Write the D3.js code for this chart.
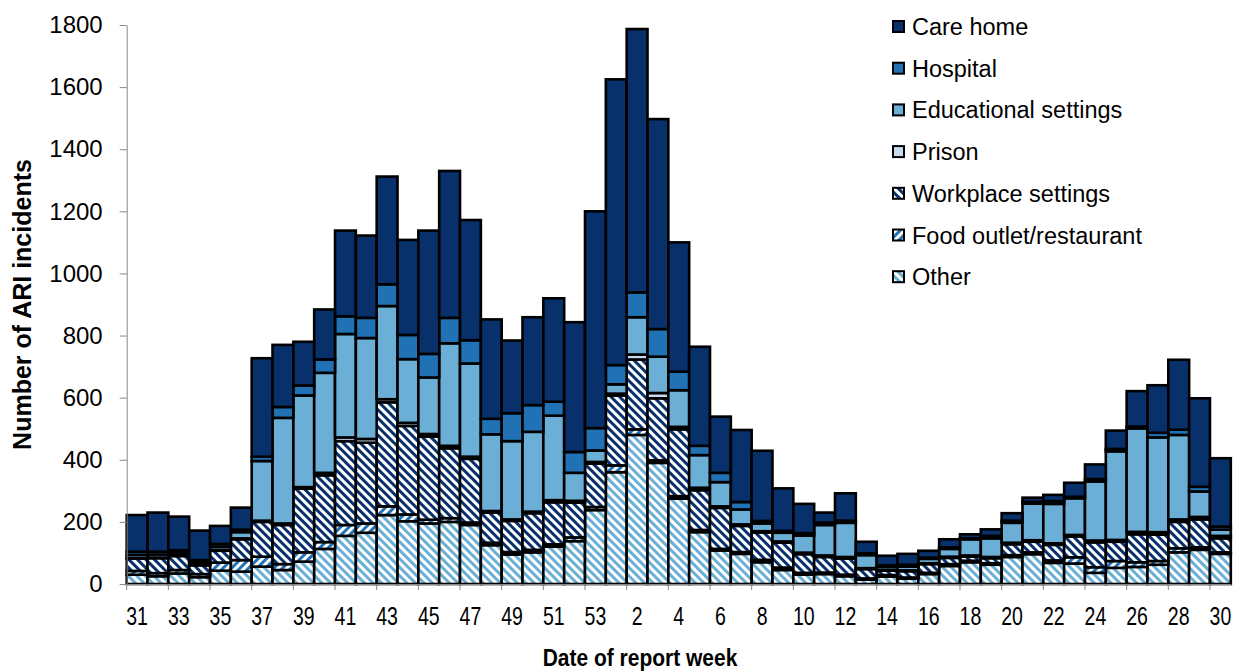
<!DOCTYPE html>
<html>
<head>
<meta charset="utf-8">
<script src="https://cdn.jsdelivr.net/npm/d3@7"></script>
<style>
  body { margin: 0; background: #fff; }
  text { font-family: "Liberation Sans", Arial, sans-serif; }
</style>
</head>
<body>
<div id="chart"></div>
<script>
// report weeks (31-53 then 1-30)
const weeks = ['31','32','33','34','35','36','37','38','39','40','41','42','43','44','45','46','47','48','49','50','51','52','53',
  '1','2','3','4','5','6','7','8','9','10','11','12','13','14','15','16','17','18','19','20','21','22','23','24','25','26','27','28','29','30'];

const other = [30,25,34,22,43,40,56,45,72,113,155,165,222,202,195,200,190,125,95,102,120,138,238,
  360,480,390,275,167,108,97,70,45,30,32,25,14,24,17,32,58,70,62,87,96,68,66,36,52,55,62,102,110,97];
const food = [12,10,11,10,26,37,32,19,30,22,35,30,28,22,12,12,8,8,8,8,8,12,10,
  22,18,8,8,7,5,6,8,8,6,5,5,4,5,4,4,6,5,5,6,6,8,20,18,22,15,12,13,8,5];
const workplace = [40,48,45,28,38,67,112,126,205,215,270,260,335,285,268,225,205,97,100,118,135,112,140,
  225,225,200,215,128,132,84,88,80,60,50,52,30,14,20,28,20,13,16,35,34,50,67,80,62,90,85,85,90,45];
const prison = [2,2,3,3,3,3,4,5,5,8,12,12,10,10,8,8,7,5,5,5,7,6,5,
  6,16,17,8,8,5,5,4,4,5,5,5,3,2,3,3,4,4,4,5,5,5,5,6,6,8,8,8,8,8];
const educational = [10,10,8,8,10,20,192,340,295,322,333,325,300,205,182,330,300,247,252,257,272,90,37,
  30,120,117,118,105,78,48,25,28,55,98,110,42,10,12,14,25,52,60,64,118,127,118,190,285,333,305,272,82,20];
const hospital = [10,9,8,6,9,8,14,35,32,43,57,65,70,78,76,82,75,50,90,86,45,67,72,
  62,80,89,60,30,30,24,8,6,8,8,7,6,5,6,4,5,3,8,7,6,9,5,8,8,6,15,17,15,10];
const careHome = [118,126,108,95,58,71,317,200,141,161,276,265,347,306,397,473,387,320,234,283,333,418,698,
  920,848,676,416,319,181,232,226,137,94,32,88,37,31,35,22,26,13,21,24,13,20,45,47,59,114,153,225,285,220];

const yTicks = [0,200,400,600,800,1000,1200,1400,1600,1800];

// stack bottom -> top
const series = [
  { key: 'other', label: 'Other', values: other, fill: 'url(#pat-other)' },
  { key: 'food', label: 'Food outlet/restaurant', values: food, fill: 'url(#pat-food)' },
  { key: 'workplace', label: 'Workplace settings', values: workplace, fill: 'url(#pat-work)' },
  { key: 'prison', label: 'Prison', values: prison, fill: '#c6dbef' },
  { key: 'educational', label: 'Educational settings', values: educational, fill: '#6baed6' },
  { key: 'hospital', label: 'Hospital', values: hospital, fill: '#2171b5' },
  { key: 'care', label: 'Care home', values: careHome, fill: '#08306b' }
];

const width = 1237, height = 671;
const plot = { left: 126.7, right: 1230.8, top: 25, bottom: 584 };

const rows = weeks.map((w, i) => {
  const r = { week: w };
  series.forEach(s => { r[s.key] = s.values[i]; });
  return r;
});

const stacked = d3.stack().keys(series.map(s => s.key))(rows);

const svg = d3.select('#chart')
  .append('svg')
  .attr('width', width)
  .attr('height', height);

// stripe patterns
const defs = svg.append('defs');
const addPattern = (id, color, angle) => {
  const p = defs.append('pattern')
    .attr('id', id)
    .attr('patternUnits', 'userSpaceOnUse')
    .attr('width', 6)
    .attr('height', 6)
    .attr('patternTransform', `rotate(${angle})`);
  p.append('rect').attr('width', 6).attr('height', 6).attr('fill', '#fff');
  p.append('rect').attr('width', 3).attr('height', 6).attr('fill', color);
};
addPattern('pat-work', '#08306b', -45);
addPattern('pat-food', '#2171b5', 45);
addPattern('pat-other', '#6baed6', -45);

const x = d3.scaleBand()
  .domain(weeks)
  .range([plot.left, plot.right])
  .padding(0);

const y = d3.scaleLinear()
  .domain([0, 1800])
  .range([plot.bottom, plot.top]);

// bars
svg.append('g')
  .selectAll('g')
  .data(stacked)
  .enter()
  .append('g')
  .attr('fill', (d, i) => series[i].fill)
  .selectAll('rect')
  .data(d => d)
  .enter()
  .append('rect')
  .attr('x', d => x(d.data.week))
  .attr('y', d => y(d[1]))
  .attr('width', x.bandwidth())
  .attr('height', d => Math.max(0, y(d[0]) - y(d[1])))
  .attr('stroke', '#000')
  .attr('stroke-width', 2.6);

// y axis
const yAxis = svg.append('g')
  .attr('transform', `translate(${plot.left},0)`)
  .call(d3.axisLeft(y).tickValues(yTicks).tickFormat(d3.format('d'))
    .tickSize(7).tickPadding(17).tickSizeOuter(0));
yAxis.select('.domain').attr('stroke', '#888');
yAxis.selectAll('.tick line').attr('stroke', '#888');
yAxis.selectAll('.tick text')
  .style('font-size', '24px')
  .style('font-family', '"Liberation Sans", Arial, sans-serif')
  .attr('fill', '#000');

// x axis: labels on every other week, ticks on band edges
const labelWeeks = weeks.filter((w, i) => i % 2 === 0);
const xAxis = svg.append('g')
  .attr('transform', `translate(0,${plot.bottom})`)
  .call(d3.axisBottom(x).tickValues(labelWeeks).tickSize(0).tickSizeOuter(0));
xAxis.select('.domain').attr('stroke', '#888');
xAxis.selectAll('.tick text')
  .attr('y', 0)
  .attr('dy', 0)
  .attr('transform', 'translate(0,41) scale(1,1.3)')
  .style('font-size', '19.5px')
  .style('font-family', '"Liberation Sans", Arial, sans-serif')
  .attr('fill', '#000');

const edgeWeeks = weeks.filter((w, i) => i % 2 === 0);
svg.append('g')
  .selectAll('line')
  .data(edgeWeeks)
  .enter()
  .append('line')
  .attr('x1', d => x(d))
  .attr('x2', d => x(d))
  .attr('y1', plot.bottom)
  .attr('y2', plot.bottom + 6)
  .attr('stroke', '#888');

// axis titles
svg.append('text')
  .attr('text-anchor', 'middle')
  .attr('transform', `translate(31, ${(plot.top + plot.bottom) / 2}) rotate(-90)`)
  .text('Number of ARI incidents')
  .style('font-size', '25px')
  .style('font-weight', 'bold');

svg.append('text')
  .attr('text-anchor', 'middle')
  .attr('transform', 'translate(640,666) scale(1,1.15)')
  .text('Date of report week')
  .style('font-size', '21px')
  .style('font-weight', 'bold');

// legend (top series first)
const legendItems = series.slice().reverse();
const legend = svg.append('g')
  .attr('transform', 'translate(893,27)');
const item = legend.selectAll('g')
  .data(legendItems)
  .enter()
  .append('g')
  .attr('transform', (d, i) => `translate(0, ${i * 41.7})`);
item.append('rect')
  .attr('x', 0)
  .attr('y', -6)
  .attr('width', 11)
  .attr('height', 11)
  .attr('fill', d => d.fill)
  .attr('stroke', '#000')
  .attr('stroke-width', 2);
item.append('text')
  .attr('x', 19)
  .attr('y', 8)
  .text(d => d.label)
  .style('font-size', '23.5px');
</script>
</body>
</html>
